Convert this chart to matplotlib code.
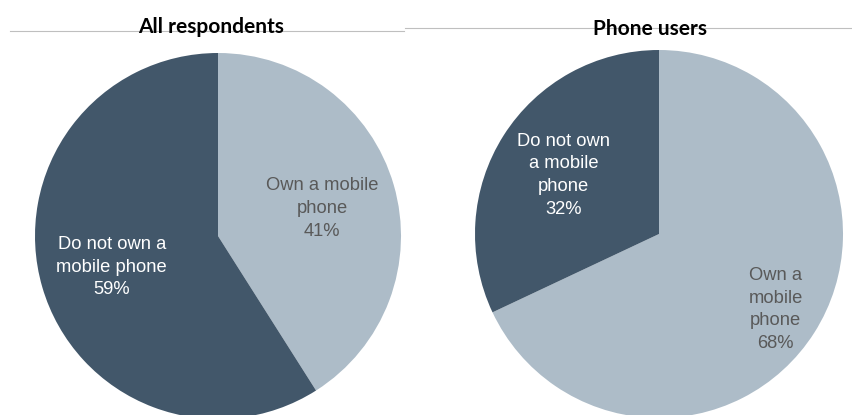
import matplotlib.pyplot as plt
from matplotlib.lines import Line2D

# --- data ---
groups = ['All respondents', 'Phone users']
categories = ['Own a mobile phone', 'Do not own a mobile phone']
all_respondents = [41, 59]
phone_users = [68, 32]

# label text wrapped the way it reads inside each slice
wrapped_left = ['Own a mobile\nphone', 'Do not own a\nmobile phone']
wrapped_right = ['Own a\nmobile\nphone', 'Do not own\na mobile\nphone']

LIGHT = '#adbcc8'
DARK = '#42576a'
W, H = 853, 415

plt.rcParams['font.family'] = ['Liberation Sans', 'DejaVu Sans']
fig = plt.figure(figsize=(W / 100, H / 100), dpi=100)


def pie_axes(cx, cy, r):
    # cx, cy, r in pixels, y measured from the top
    ax = fig.add_axes([(cx - r) / W, (H - cy - r) / H, 2 * r / W, 2 * r / H])
    ax.set_xlim(-1, 1)
    ax.set_ylim(-1, 1)
    ax.axis('off')
    return ax


def draw_pie(ax, values, labels, label_pos):
    ax.pie(values, colors=[LIGHT, DARK], startangle=90, counterclock=False,
           radius=1, center=(0, 0), frame=True,
           wedgeprops=dict(linewidth=0))
    ax.set_xlim(-1, 1)
    ax.set_ylim(-1, 1)
    ax.axis('off')
    text_colors = ['#595959', 'white']
    for v, lab, (x, y), c in zip(values, labels, label_pos, text_colors):
        ax.text(x, y, f'{lab}\n{v}%', ha='center', va='center', color=c,
                fontsize=13.2, linespacing=1.43)


ax1 = pie_axes(218, 236, 183)
draw_pie(ax1, all_respondents, wrapped_left, [(0.57, 0.15), (-0.58, -0.17)])

ax2 = pie_axes(659, 234, 184)
draw_pie(ax2, phone_users, wrapped_right, [(0.635, -0.41), (-0.52, 0.32)])

# group titles with thin rules behind them
fig.add_artist(Line2D([10 / W, 404 / W], [1 - 31.5 / H, 1 - 31.5 / H],
                      color='#bfbfbf', lw=0.8))
fig.add_artist(Line2D([405 / W, 1.0], [1 - 28 / H, 1 - 28 / H],
                      color='#bfbfbf', lw=0.8))
fig.text(211 / W, 1 - 27 / H, groups[0], ha='center', va='center',
         fontsize=15, fontweight='bold', family=['Lato', 'DejaVu Sans'])
fig.text(650 / W, 1 - 29 / H, groups[1], ha='center', va='center',
         fontsize=15, fontweight='bold', family=['Lato', 'DejaVu Sans'])

fig.savefig('out.png', dpi=100)
